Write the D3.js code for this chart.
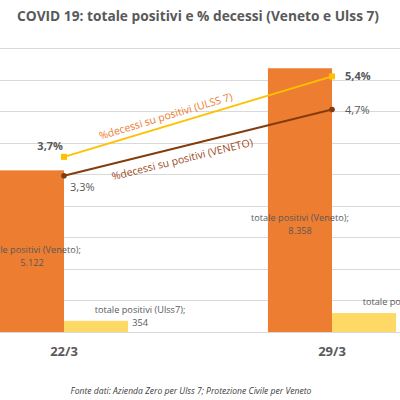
<!DOCTYPE html>
<html>
<head>
    <script src="https://d3js.org/d3.v7.min.js"></script>
    <style type="text/css">
        body { margin: 0; background: #fff; }
        svg { display: block; font-family: "Open Sans", sans-serif; }
    </style>
</head>
<body>
    <script type="text/javascript">

        // dati
        var dates = ["22/3", "29/3"];
        var series = ["totale positivi (Veneto)", "totale positivi (Ulss7)"];
        var positiviVeneto = [5122, 8358];
        var positiviUlss7 = [354, 600];
        var decessiUlss7 = [0.037, 0.054];
        var decessiVeneto = [0.033, 0.047];
        var yTicks = [0, 1000, 2000, 3000, 4000, 5000, 6000, 7000, 8000, 9000];

        var w = 400, h = 400;
        var yBase = 332, yTop = 48;
        var grey = "#595959";

        var svg = d3.select("body").append("svg")
            .attr("width", w).attr("height", h);

        // scale per categorie (il grafico originale e' tagliato ai lati)
        var x0 = d3.scaleBand()
            .domain(dates)
            .range([-70, 466])
            .paddingInner(0.522)
            .paddingOuter(0.261);

        var x1 = d3.scaleBand()
            .domain(series)
            .range([0, x0.bandwidth()]);

        var y = d3.scaleLinear().domain([0, 9000]).range([yBase, yTop]);
        var y2 = d3.scaleLinear().domain([0, 0.06]).range([yBase, yTop]);

        // titolo
        svg.append("text")
            .attr("x", 198).attr("y", 21)
            .attr("text-anchor", "middle")
            .attr("font-size", 15)
            .attr("font-weight", "bold")
            .attr("fill", grey)
            .attr("textLength", 362)
            .attr("lengthAdjust", "spacingAndGlyphs")
            .text("COVID 19: totale positivi e % decessi (Veneto e Ulss 7)");

        // griglia
        svg.append("g").selectAll("line")
            .data(yTicks)
            .enter().append("line")
            .attr("x1", 0).attr("x2", w)
            .attr("y1", function(d) { return Math.round(y(d)) + 0.5; })
            .attr("y2", function(d) { return Math.round(y(d)) + 0.5; })
            .attr("stroke", "#d9d9d9")
            .attr("stroke-width", 1);

        // barre
        var barData = [];
        dates.forEach(function(d, i) {
            barData.push({ date: d, s: series[0], v: positiviVeneto[i], c: "#ed7d31" });
            barData.push({ date: d, s: series[1], v: positiviUlss7[i], c: "#ffd966" });
        });

        svg.append("g").selectAll("rect")
            .data(barData)
            .enter().append("rect")
            .attr("x", function(d) { return x0(d.date) + x1(d.s); })
            .attr("y", function(d) { return y(d.v); })
            .attr("width", x1.bandwidth())
            .attr("height", function(d) { return yBase - y(d.v); })
            .attr("fill", function(d) { return d.c; });

        function fmtNum(v) { return d3.format(",")(v).replace(/,/g, "."); }
        function fmtPct(v) { return d3.format(".1f")(v * 100).replace(".", ",") + "%"; }

        // etichette barre Veneto (posizionate a mano nell'originale)
        var venetoDy = [-1, 18];
        dates.forEach(function(d, i) {
            var cx = x0(d) + x1(series[0]) + x1.bandwidth() / 2;
            var cy = y(positiviVeneto[i] / 2) + venetoDy[i];
            var t = svg.append("text")
                .attr("text-anchor", "middle")
                .attr("font-size", 9.2)
                .attr("fill", grey);
            t.append("tspan").attr("x", cx).attr("y", cy + 3).text(series[0] + ";");
            t.append("tspan").attr("x", cx).attr("y", cy + 16).text(fmtNum(positiviVeneto[i]));
        });

        // etichette barre Ulss7
        dates.forEach(function(d, i) {
            var cx = x0(d) + x1(series[1]) + x1.bandwidth() / 2 + 44;
            var cy = y(positiviUlss7[i]) - 11;
            var t = svg.append("text")
                .attr("text-anchor", "middle")
                .attr("font-size", 9.2)
                .attr("fill", grey);
            t.append("tspan").attr("x", cx).attr("y", cy + 3).text(series[1] + ";");
            t.append("tspan").attr("x", cx).attr("y", cy + 16).text(fmtNum(positiviUlss7[i]));
        });

        // linee percentuali
        var cxOf = function(d) { return x0(d) + x0.bandwidth() / 2; };
        var line = d3.line()
            .x(function(d) { return cxOf(d[0]); })
            .y(function(d) { return y2(d[1]); });

        var lines = [
            { vals: decessiVeneto, color: "#843c0c", label: "%decessi su positivi (VENETO)", lc: "#9e4a1e", t: 0.43, off: 13 },
            { vals: decessiUlss7, color: "#ffc000", label: "%decessi su positivi (ULSS 7)", lc: "#ed7d31", t: 0.39, off: -9 }
        ];

        lines.forEach(function(L) {
            var pts = dates.map(function(d, i) { return [d, L.vals[i]]; });
            svg.append("path")
                .datum(pts)
                .attr("d", line)
                .attr("fill", "none")
                .attr("stroke", L.color)
                .attr("stroke-width", 2);

            var xa = cxOf(dates[0]), ya = y2(L.vals[0]);
            var xb = cxOf(dates[1]), yb = y2(L.vals[1]);
            var ang = Math.atan2(yb - ya, xb - xa) * 180 / Math.PI;
            var px = xa + (xb - xa) * L.t, py = ya + (yb - ya) * L.t;
            svg.append("text")
                .attr("transform", "translate(" + px + "," + py + ") rotate(" + ang + ")")
                .attr("y", L.off + 3)
                .attr("text-anchor", "middle")
                .attr("font-size", 10.5)
                .attr("fill", L.lc)
                .text(L.label);
        });

        // marcatori
        svg.append("g").selectAll("rect")
            .data(dates)
            .enter().append("rect")
            .attr("x", function(d) { return cxOf(d) - 3; })
            .attr("y", function(d, i) { return y2(decessiUlss7[i]) - 3; })
            .attr("width", 6).attr("height", 6)
            .attr("fill", "#ffc000");

        svg.append("g").selectAll("circle")
            .data(dates)
            .enter().append("circle")
            .attr("cx", cxOf)
            .attr("cy", function(d, i) { return y2(decessiVeneto[i]); })
            .attr("r", 2.8)
            .attr("fill", "#843c0c");

        // etichette percentuali
        svg.append("text")
            .attr("x", cxOf(dates[0]) - 1).attr("y", y2(decessiUlss7[0]) - 7)
            .attr("text-anchor", "end").attr("font-size", 11).attr("font-weight", "bold")
            .attr("fill", grey).text(fmtPct(decessiUlss7[0]));
        svg.append("text")
            .attr("x", cxOf(dates[1]) + 13).attr("y", y2(decessiUlss7[1]) + 4)
            .attr("font-size", 11).attr("font-weight", "bold")
            .attr("fill", grey).text(fmtPct(decessiUlss7[1]));
        svg.append("text")
            .attr("x", cxOf(dates[0]) + 6).attr("y", y2(decessiVeneto[0]) + 15)
            .attr("font-size", 11)
            .attr("fill", grey).text(fmtPct(decessiVeneto[0]));
        svg.append("text")
            .attr("x", cxOf(dates[1]) + 13).attr("y", y2(decessiVeneto[1]) + 4)
            .attr("font-size", 11)
            .attr("fill", grey).text(fmtPct(decessiVeneto[1]));

        // asse categorie
        svg.append("g").selectAll("text")
            .data(dates)
            .enter().append("text")
            .attr("x", cxOf)
            .attr("y", 356)
            .attr("text-anchor", "middle")
            .attr("font-size", 13)
            .attr("font-weight", "bold")
            .attr("fill", grey)
            .text(function(d) { return d; });

        // fonte
        svg.append("text")
            .attr("x", 191).attr("y", 394)
            .attr("text-anchor", "middle")
            .attr("font-size", 8.6)
            .attr("font-style", "italic")
            .attr("fill", "#404040")
            .text("Fonte dati: Azienda Zero per Ulss 7; Protezione Civile per Veneto");

    </script>
</body>
</html>
